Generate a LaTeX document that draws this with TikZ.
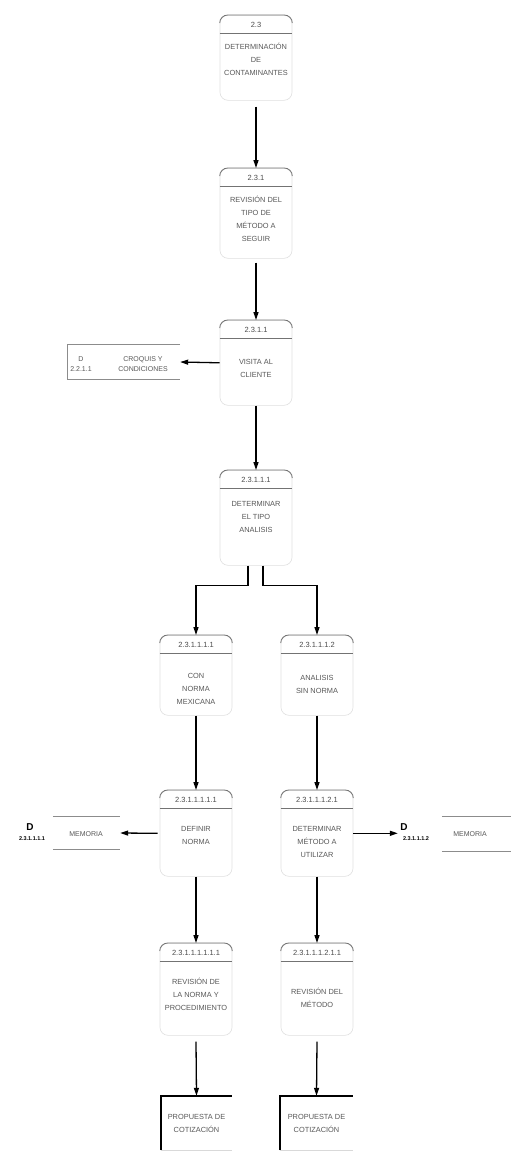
\documentclass[tikz,border=0pt]{standalone}
\usepackage{fontspec}
\setmainfont{Liberation Sans}
\usetikzlibrary{arrows.meta}
\tikzset{
 procbox/.style={draw=black!12, line width=0.6pt, rounded corners=8pt, minimum width=72pt, inner sep=0pt},
 edgeline/.style={draw=black!55, line width=0.8pt, rounded corners=8pt},
 sepline/.style={draw=black!55, line width=0.8pt},
 lbl/.style={font=\fontsize{7.5}{8}\selectfont, text=black!70, inner sep=0pt},
 body/.style={font=\fontsize{7.4}{13}\selectfont, text=black!65, align=center, inner sep=0pt},
 arr/.style={draw=black, line width=1.3pt, -{Triangle[length=8pt,width=5pt]}},
 storeline/.style={draw=black!45, line width=0.7pt},
 faintline/.style={draw=black!15, line width=0.6pt},
 extline/.style={draw=black, line width=1.5pt},
 dmark/.style={font=\bfseries\fontsize{10}{10}\selectfont, inner sep=0pt},
 dnum/.style={font=\bfseries\fontsize{5.5}{6}\selectfont, inner sep=0pt},
 storetxt/.style={font=\fontsize{7}{10.5}\selectfont, text=black!65, align=center, inner sep=0pt},
}
\newcommand\proc[7]{%
 \node[procbox, minimum height=#4pt, anchor=north] (#1) at (#2,#3) {};
 \draw[edgeline] ([yshift=-8pt]#1.north west) -- (#1.north west) -- (#1.north east) -- ([yshift=-8pt]#1.north east);
 \draw[sepline] ([yshift=-18pt]#1.north west) -- ([yshift=-18pt]#1.north east);
 \node[lbl] (#1-id) at (#2,#3+10) {#5};
 \node[body] (#1-txt) at (#2,#6) {#7};
}
\begin{document}
\begin{tikzpicture}[x=1pt,y=-1pt]
\useasboundingbox[fill=white] (0,0) rectangle (511,1160);

% processes
\proc{p1}{256}{15}{85}{2.3}{59}{DETERMINACIÓN\\DE\\CONTAMINANTES}
\proc{p2}{256}{168}{90}{2.3.1}{219}{REVISIÓN DEL\\TIPO DE\\MÉTODO A\\SEGUIR}
\proc{p3}{256}{320}{85}{2.3.1.1}{368}{VISITA AL\\CLIENTE}
\proc{p4}{256}{470}{95}{2.3.1.1.1}{517}{DETERMINAR\\EL TIPO\\ANALISIS}
\proc{p5l}{196}{635}{80}{2.3.1.1.1.1}{689}{CON\\NORMA\\MEXICANA}
\proc{p5r}{317}{635}{80}{2.3.1.1.1.2}{684}{ANALISIS\\SIN NORMA}
\proc{p6l}{196}{790}{86}{2.3.1.1.1.1.1}{835}{DEFINIR\\NORMA}
\proc{p6r}{317}{790}{86}{2.3.1.1.1.2.1}{842}{DETERMINAR\\MÉTODO A\\UTILIZAR}
\proc{p7l}{196}{943}{92}{2.3.1.1.1.1.1.1}{994}{REVISIÓN DE\\LA NORMA Y\\PROCEDIMIENTO}
\proc{p7r}{317}{943}{92}{2.3.1.1.1.2.1.1}{998}{REVISIÓN DEL\\MÉTODO}

% data store CROQUIS
\node[minimum width=112pt, minimum height=34pt, inner sep=0pt] (s1) at (124,362) {};
\draw[storeline] (s1.north east) -- (s1.north west) -- (s1.south west) -- (s1.south east);
\node[storetxt] (s1-id) at (81,364) {D\\2.2.1.1};
\node[storetxt] (s1-txt) at (143,364) {CROQUIS Y\\CONDICIONES};

% data store MEMORIA left
\node[minimum width=67pt, minimum height=33pt, inner sep=0pt] (s2) at (86.5,833) {};
\draw[storeline] (s2.north west) -- (s2.north east);
\draw[storeline] (s2.south west) -- (s2.south east);
\node[storetxt] (s2-txt) at (86,834) {MEMORIA};
\node[dmark] (s2-d) at (30,827) {D};
\node[dnum] (s2-id) at (32,839) {2.3.1.1.1.1};

% data store MEMORIA right
\node[minimum width=69pt, minimum height=34pt, inner sep=0pt] (s3) at (476.5,834) {};
\draw[storeline] (s3.north west) -- (s3.north east);
\draw[storeline] (s3.south west) -- (s3.south east);
\node[storetxt] (s3-txt) at (470,834) {MEMORIA};
\node[dmark] (s3-d) at (404,827) {D};
\node[dnum, inner xsep=5pt] (s3-id) at (416,839) {2.3.1.1.1.2};

% external entities
\node[body, minimum width=71pt, minimum height=54pt] (e1) at (196.5,1123) {PROPUESTA DE\\COTIZACIÓN};
\draw[extline] (e1.south west) -- (e1.north west) -- (e1.north east);
\draw[faintline] (e1.south west) -- (e1.south east);
\node[body, minimum width=73pt, minimum height=54pt] (e2) at (316.5,1123) {PROPUESTA DE\\COTIZACIÓN};
\draw[extline] (e2.south west) -- (e2.north west) -- (e2.north east);
\draw[faintline] (e2.south west) -- (e2.south east);

% connectors
\draw[arr] ([yshift=-6pt]p1.south) -- (p2.north);
\draw[arr] ([yshift=-4pt]p2.south) -- (p3.north);
\draw[arr] (p3.south) -- (p4.north);
\draw[arr] (p3.west) -- (s1.east);
\draw[arr] ([xshift=-8pt]p4.south) -- ++(0,20) -| (p5l.north);
\draw[arr] ([xshift=7pt]p4.south) -- ++(0,20) -| (p5r.north);
\draw[arr] (p5l.south) -- (p6l.north);
\draw[arr] (p5r.south) -- (p6r.north);
\draw[arr] ([xshift=-2pt]p6l.west) -- (s2.east);
\draw[arr] (p6r.east) -- (s3-id.west |- p6r.east);
\draw[arr] (p6l.south) -- (p7l.north);
\draw[arr] (p6r.south) -- (p7r.north);
\draw[arr] ([yshift=-6pt]p7l.south) -- (e1.north);
\draw[arr] ([yshift=-6pt]p7r.south) -- (e2.north);
\end{tikzpicture}
\end{document}
